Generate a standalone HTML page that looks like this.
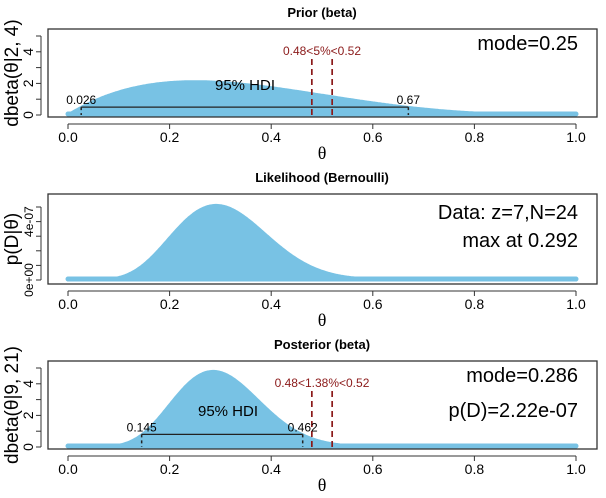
<!DOCTYPE html>
<html><head><meta charset="utf-8"><style>
body{margin:0;background:#fff}
svg{display:block;font-family:"Liberation Sans",sans-serif}
</style></head><body>
<svg id="c" width="606" height="498" xmlns="http://www.w3.org/2000/svg"></svg>
<script>
const priorParams=[2,4];
const postParams=[9,21];
const dataZN=[7,24];
const priorHDI=[0.026,0.67];
const postHDI=[0.145,0.462];
const ropeLims=[0.48,0.52];
const xTicks=[0,0.2,0.4,0.6,0.8,1.0];
const xTickLabels=["0.0","0.2","0.4","0.6","0.8","1.0"];
const yTicksBeta=[0,1,2,3,4,5];
const yTicksLik=[0,1e-7,2e-7,3e-7,4e-7,5e-7];

const svg=document.getElementById('c');
const NS="http://www.w3.org/2000/svg";
function mk(tag,attrs,text){const e=document.createElementNS(NS,tag);for(const k in attrs)e.setAttribute(k,attrs[k]);if(text!==undefined)e.textContent=text;svg.appendChild(e);return e;}
function lgamma(x){const g=[76.18009172947146,-86.50532032941677,24.01409824083091,-1.231739572450155,0.1208650973866179e-2,-0.5395239384953e-5];let y=x,t=x+5.5;t-=(x+0.5)*Math.log(t);let s=1.000000000190015;for(let j=0;j<6;j++)s+=g[j]/++y;return -t+Math.log(2.5066282746310005*s/x);}
function dbeta(t,a,b){if(t<=0||t>=1)return 0;return Math.exp((a-1)*Math.log(t)+(b-1)*Math.log(1-t)+lgamma(a+b)-lgamma(a)-lgamma(b));}
function lik(t,z,n){return Math.pow(t,z)*Math.pow(1-t,n-z);}
const X=v=>68+v*508;
const COL="#78c2e4";

function panel(o){
  const Y=v=>o.y0-(v/o.unit)*o.ppu;
  mk('text',{x:322,y:o.top-12,'text-anchor':'middle','font-size':13,'font-weight':'bold'},o.title);
  let pts=[];for(let i=0;i<=400;i++){const t=i/400;pts.push(X(t).toFixed(1)+','+Y(o.f(t)).toFixed(1));}
  const poly=mk('polygon',{points:X(0)+','+o.y0+' '+pts.join(' ')+' '+X(1)+','+o.y0,fill:COL,stroke:COL,'stroke-width':3,'stroke-linejoin':'round'});
  
  mk('line',{x1:X(0),y1:o.y0-1,x2:X(1),y2:o.y0-1,stroke:COL,'stroke-width':5,'stroke-linecap':'round'});
  mk('rect',{x:48,y:o.top,width:549,height:o.bot-o.top,fill:'none',stroke:'#333','stroke-width':1.3});
  const xa=mk('line',{x1:X(0),y1:o.bot+7,x2:X(1),y2:o.bot+7,stroke:'#333'});
  xTicks.forEach((v,i)=>{mk('line',{x1:X(v),y1:o.bot+7,x2:X(v),y2:o.bot+12,stroke:'#333'});
    mk('text',{x:X(v),y:o.bot+25,'text-anchor':'middle','font-size':14},xTickLabels[i]);});
  mk('text',{x:322,y:o.bot+42,'text-anchor':'middle','font-size':18,'font-family':'Liberation Serif,serif'},'θ');
  const yt=o.yTicks;
  mk('line',{x1:41,y1:Y(yt[0]),x2:41,y2:Y(yt[yt.length-1]),stroke:'#333'});
  yt.forEach((v,i)=>{mk('line',{x1:36,y1:Y(v),x2:41,y2:Y(v),stroke:'#333'});
    if(o.yLab[i]){const t=mk('text',{x:33,y:Y(v),'text-anchor':'middle','font-size':o.yls,transform:`rotate(-90 33 ${Y(v)})`},o.yLab[i]);}});
  const cy=(o.top+o.bot)/2;
  mk('text',{x:18,y:cy,'text-anchor':'middle','font-size':19,transform:`rotate(-90 18 ${cy})`},o.ylabel);
  return Y;
}
function hdi(Y,key,h,hy,lab){
  const yy=Y(hy);
  mk('line',{x1:X(h[0]),y1:yy,x2:X(h[1]),y2:yy,stroke:'#222','stroke-width':1.3});
  h.forEach(v=>{mk('line',{x1:X(v),y1:yy,x2:X(v),y2:Y(0),stroke:'#222','stroke-width':1.5,'stroke-dasharray':'3,3'});
    mk('text',{x:X(v),y:yy-3,'text-anchor':'middle','font-size':12},String(v));});
  mk('text',{x:lab[0],y:lab[1],'text-anchor':'middle','font-size':15},'95% HDI');
}
function rope(Y,key,top,txt,ty){
  ropeLims.forEach(v=>{mk('line',{x1:X(v),y1:Y(0),x2:X(v),y2:top,stroke:'#8b1a1a','stroke-width':1.7,'stroke-dasharray':'6,4'});});
  mk('text',{x:322,y:ty,'text-anchor':'middle','font-size':12,fill:'#8b1a1a'},txt);
}
let Y1=panel({key:'prior',title:'Prior (beta)',top:29,bot:117,y0:115,unit:1,ppu:15.8,f:t=>dbeta(t,priorParams[0],priorParams[1]),yTicks:yTicksBeta,yLab:["0","","2","","4",""],yls:14,ylabel:'dbeta(θ|2, 4)'});
rope(Y1,'prior',56,'0.48<5%<0.52',55);
hdi(Y1,'prior',priorHDI,0.5,[245,90]);
mk('text',{x:578,y:50,'text-anchor':'end','font-size':20},'mode=0.25');
panel({key:'likelihood',title:'Likelihood (Bernoulli)',top:194,bot:284,y0:280,unit:1e-7,ppu:14.6,f:t=>lik(t,dataZN[0],dataZN[1]),yTicks:yTicksLik,yLab:["0e+00","","","","4e-07",""],yls:12,ylabel:'p(D|θ)'});
mk('text',{x:578,y:219,'text-anchor':'end','font-size':20},'Data: z=7,N=24');
mk('text',{x:578,y:247,'text-anchor':'end','font-size':20},'max at 0.292');
let Y3=panel({key:'posterior',title:'Posterior (beta)',top:361,bot:449,y0:447,unit:1,ppu:15.8,f:t=>dbeta(t,postParams[0],postParams[1]),yTicks:yTicksBeta,yLab:["0","","2","","4",""],yls:14,ylabel:'dbeta(θ|9, 21)'});
rope(Y3,'posterior',388,'0.48<1.38%<0.52',387);
hdi(Y3,'posterior',postHDI,0.8,[228,416]);
mk('text',{x:578,y:382,'text-anchor':'end','font-size':20},'mode=0.286');
mk('text',{x:578,y:417,'text-anchor':'end','font-size':20},'p(D)=2.22e-07');
</script>
</body></html>
